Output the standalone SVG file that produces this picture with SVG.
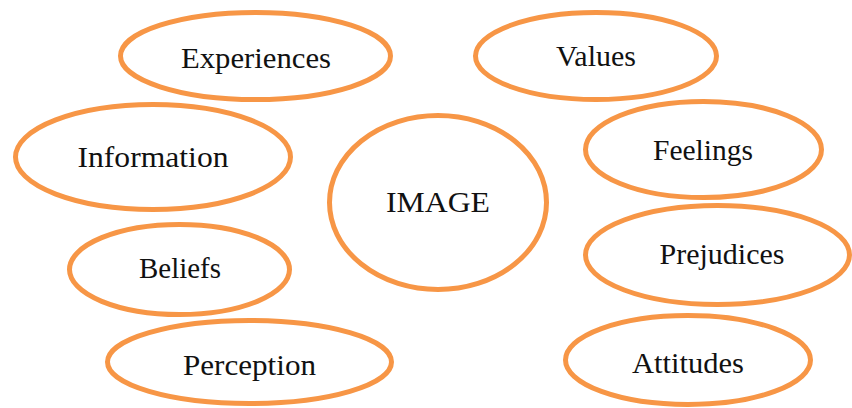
<svg xmlns="http://www.w3.org/2000/svg" width="852" height="408" viewBox="0 0 852 408">
<style>
.n{fill:#fff;stroke:#F79646;stroke-width:5}
.t{font-family:"Liberation Serif","Times New Roman",serif;font-size:29px;fill:#111;text-anchor:middle}
</style>
<rect width="852" height="408" fill="#fff"/>
<g id="connectors"></g>
<g id="experiences"><ellipse class="n" cx="255.5" cy="56" rx="135" ry="43.5"/><text class="t" x="256" y="68" textLength="150" lengthAdjust="spacingAndGlyphs">Experiences</text></g>
<g id="values"><ellipse class="n" cx="596" cy="56" rx="120.5" ry="43.5"/><text class="t" x="596" y="66" textLength="80" lengthAdjust="spacingAndGlyphs">Values</text></g>
<g id="information"><ellipse class="n" cx="153" cy="157" rx="137.5" ry="52.5"/><text class="t" x="153" y="167" textLength="151" lengthAdjust="spacingAndGlyphs">Information</text></g>
<g id="image"><ellipse class="n" cx="438" cy="202.5" rx="108.5" ry="87"/><text class="t" x="438" y="212" textLength="104" lengthAdjust="spacingAndGlyphs">IMAGE</text></g>
<g id="feelings"><ellipse class="n" cx="703.5" cy="149.5" rx="118" ry="48"/><text class="t" x="703" y="160" textLength="100" lengthAdjust="spacingAndGlyphs">Feelings</text></g>
<g id="prejudices"><ellipse class="n" cx="717.5" cy="255" rx="132" ry="49.5"/><text class="t" x="722" y="264" textLength="125" lengthAdjust="spacingAndGlyphs">Prejudices</text></g>
<g id="beliefs"><ellipse class="n" cx="179.5" cy="269.5" rx="110" ry="45"/><text class="t" x="180" y="278" textLength="82" lengthAdjust="spacingAndGlyphs">Beliefs</text></g>
<g id="perception"><ellipse class="n" cx="249.5" cy="362" rx="142" ry="41.5"/><text class="t" x="249.5" y="375" textLength="133" lengthAdjust="spacingAndGlyphs">Perception</text></g>
<g id="attitudes"><ellipse class="n" cx="688" cy="360" rx="122.5" ry="44.5"/><text class="t" x="688" y="373" textLength="112" lengthAdjust="spacingAndGlyphs">Attitudes</text></g>
</svg>
